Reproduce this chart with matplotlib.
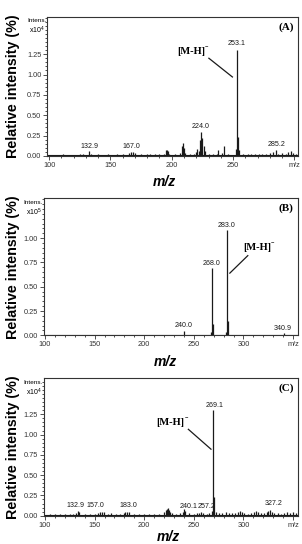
import numpy as np
import matplotlib
matplotlib.use("Agg")
from matplotlib import pyplot as plt
from matplotlib.ticker import MultipleLocator

plt.rcParams['font.family'] = ['Liberation Sans', 'DejaVu Sans']
plt.rcParams['mathtext.fontset'] = 'custom'
plt.rcParams['mathtext.rm'] = 'Liberation Sans'
plt.rcParams['mathtext.it'] = 'Liberation Sans:italic'
plt.rcParams['mathtext.bf'] = 'Liberation Sans:bold'

# panel A, intensity x10^4
mz_a = [111, 118, 125, 128, 132.9, 134, 140, 148, 155, 160, 165, 167.0, 168, 170,
        175, 180, 182, 186, 190, 194, 195, 196, 197, 198, 203, 207, 208, 209, 210,
        211, 215, 218, 220, 221, 222, 223, 224.0, 225, 226, 227, 230, 234, 237, 238,
        241, 243, 246, 252.3, 253.1, 254.1, 255, 258, 262, 265, 268, 271, 274, 277,
        280, 283, 285.2, 287, 290, 293, 295, 297, 299, 301]
int_a = [0.02, 0.015, 0.02, 0.025, 0.065, 0.03, 0.025, 0.02, 0.025, 0.02, 0.04, 0.05, 0.055, 0.04,
         0.02, 0.03, 0.03, 0.02, 0.02, 0.03, 0.07, 0.075, 0.06, 0.03, 0.02, 0.04, 0.12, 0.16, 0.10,
         0.04, 0.02, 0.03, 0.05, 0.09, 0.06, 0.20, 0.29, 0.22, 0.12, 0.06, 0.03, 0.02, 0.03, 0.07,
         0.04, 0.12, 0.03, 0.08, 1.30, 0.23, 0.07, 0.02, 0.02, 0.03, 0.03, 0.025, 0.02, 0.03,
         0.04, 0.05, 0.07, 0.03, 0.04, 0.03, 0.05, 0.06, 0.04, 0.03]
lab_a = ["132.9", "167.0", "224.0", "253.1", "285.2"]

# panel B, intensity x10^5
mz_b = [150, 200, 240.0, 267.4, 268.0, 268.9, 282.4, 283.0, 284.0, 310, 340.9]
int_b = [0.004, 0.004, 0.04, 0.03, 0.69, 0.12, 0.03, 1.08, 0.15, 0.005, 0.02]
lab_b = ["240.0", "268.0", "283.0", "340.9"]

# panel C, intensity x10^4
mz_c = [105, 110, 115, 120, 125, 128, 131, 132.9, 134, 140, 145, 150, 153, 155, 157.0,
        159, 163, 167, 172, 176, 180, 181, 183.0, 185, 190, 195, 200, 205, 210, 215,
        220, 222, 223, 224, 225, 226, 228, 232, 236, 239, 240.1, 241, 245, 250, 253,
        255, 257.2, 259, 263, 265, 268.3, 269.1, 270.1, 272, 275, 278, 282, 285, 288,
        291, 295, 297, 299, 301, 305, 308, 311, 313, 315, 318, 321, 324, 325, 327.2,
        329, 331, 335, 338, 341, 344, 347, 350, 353]
int_c = [0.015, 0.02, 0.015, 0.02, 0.02, 0.025, 0.03, 0.06, 0.04, 0.02, 0.02, 0.025, 0.03, 0.04, 0.05,
         0.045, 0.02, 0.03, 0.02, 0.02, 0.03, 0.04, 0.05, 0.04, 0.02, 0.02, 0.02, 0.02, 0.02, 0.02,
         0.04, 0.07, 0.08, 0.09, 0.07, 0.05, 0.03, 0.02, 0.03, 0.05, 0.08, 0.06, 0.03, 0.02, 0.03,
         0.03, 0.04, 0.03, 0.02, 0.03, 0.06, 1.30, 0.23, 0.05, 0.03, 0.03, 0.04, 0.03, 0.03,
         0.03, 0.05, 0.06, 0.04, 0.03, 0.02, 0.03, 0.05, 0.06, 0.04, 0.03, 0.03, 0.05, 0.06, 0.07,
         0.05, 0.03, 0.03, 0.02, 0.03, 0.04, 0.03, 0.04, 0.03]
lab_c = ["132.9", "157.0", "183.0", "240.1", "257.2", "269.1", "327.2"]

W, H = 302, 544
fig = plt.figure(figsize=(W / 100, H / 100), dpi=100)

def px_axes(l, t, r, b):
    return fig.add_axes([l / W, 1 - b / H, (r - l) / W, (b - t) / H])

ink = '#1a1a1a'

def draw_panel(ax, mz, inten, xlim, ylim, xticks, yticks, power, tag):
    ax.vlines(mz, 0, inten, color=ink, lw=0.9)
    ax.axhline(0.008, color=ink, lw=0.8)
    ax.set_xlim(*xlim)
    ax.set_ylim(*ylim)
    ax.set_xticks(xticks)
    ax.set_xticklabels([str(v) for v in xticks[:-1]] + ['m/z'])
    ax.set_yticks(yticks)
    ax.set_yticklabels(['%.2f' % v for v in yticks])
    ax.xaxis.set_minor_locator(MultipleLocator(10))
    ax.yaxis.set_minor_locator(MultipleLocator(0.05))
    ax.tick_params(which='both', direction='out', labelsize=5.3, width=0.6,
                   colors='#333333', pad=1.2)
    ax.tick_params(which='major', length=3)
    ax.tick_params(which='minor', length=1.6)
    ax.tick_params(axis='x', which='both', top=False)
    ax.tick_params(axis='y', which='both', right=False)
    for s in ax.spines.values():
        s.set_linewidth(0.8)
        s.set_color('#333333')
    ax.annotate('Intens.', xy=(0, 1), xycoords='axes fraction', xytext=(-1, -4),
                textcoords='offset pixels', ha='right', va='center', fontsize=4.6)
    ax.annotate('x10$^%d$' % power, xy=(0, 1), xycoords='axes fraction', xytext=(-2, -14),
                textcoords='offset pixels', ha='right', va='center', fontsize=5)
    ax.text(0.952, 0.925, tag, transform=ax.transAxes, ha='center', va='center',
            fontsize=8, fontweight='bold', family='Liberation Serif')

def peak_labels(ax, labels, xs, ys):
    for t, x, y in zip(labels, xs, ys):
        ax.text(x, y, t, ha='center', va='center', fontsize=5.1, color=ink)

def mh(ax, tx, ty, x0, y0, x1, y1):
    ax.text(tx, ty, '[M-H]', ha='center', va='center', fontsize=7.5,
            fontweight='bold', family='Liberation Serif')
    ax.annotate('$^{-}$', xy=(tx, ty), xytext=(13, 4), textcoords='offset pixels',
                ha='left', va='center', fontsize=6)
    ax.plot([x0, x1], [y0, y1], color=ink, lw=0.9)

ylab = dict(rotation=90, ha='center', va='center', fontsize=10.3, fontweight='bold')
xlab = dict(ha='center', va='center', fontsize=10, fontweight='bold', fontstyle='italic')

# (A)
ax = px_axes(47.3, 16.7, 298, 156)
draw_panel(ax, mz_a, int_a, (98.5, 303), (0, 1.71), [100, 150, 200, 250, 300],
           [0, 0.25, 0.5, 0.75, 1.0, 1.25], 4, '(A)')
peak_labels(ax, lab_a, [132.9, 167.0, 224.0, 253.1, 285.2], [0.12, 0.12, 0.36, 1.38, 0.145])
mh(ax, 216, 1.28, 230.3, 1.20, 249.5, 0.97)
fig.text(13 / W, 1 - 86 / H, 'Relative intensity (%)', **ylab)
fig.text(164 / W, 1 - 182 / H, 'm/z', **xlab)

# (B)
ax = px_axes(44, 198.3, 298, 335.3)
draw_panel(ax, mz_b, int_b, (99, 355), (0, 1.41), [100, 150, 200, 250, 300, 350],
           [0, 0.25, 0.5, 0.75, 1.0], 5, '(B)')
peak_labels(ax, lab_b, [240.0, 268.3, 283.4, 340.0], [0.10, 0.735, 1.13, 0.07])
mh(ax, 314, 0.90, 304.4, 0.82, 286.3, 0.64)
fig.text(13 / W, 1 - 267 / H, 'Relative intensity (%)', **ylab)
fig.text(165 / W, 1 - 361.7 / H, 'm/z', **xlab)

# (C)
ax = px_axes(44, 378.3, 298, 515.7)
draw_panel(ax, mz_c, int_c, (99, 355), (0, 1.694), [100, 150, 200, 250, 300, 350],
           [0, 0.25, 0.5, 0.75, 1.0, 1.25], 4, '(C)')
peak_labels(ax, lab_c, [131, 150.4, 184, 245, 263, 271.4, 330],
            [0.12, 0.12, 0.12, 0.11, 0.11, 1.36, 0.145])
mh(ax, 226.5, 1.15, 244.5, 1.065, 267.3, 0.82)
fig.text(13 / W, 1 - 447 / H, 'Relative intensity (%)', **ylab)
fig.text(168 / W, 1 - 536.7 / H, 'm/z', **xlab)

fig.savefig('out.png', dpi=100)
